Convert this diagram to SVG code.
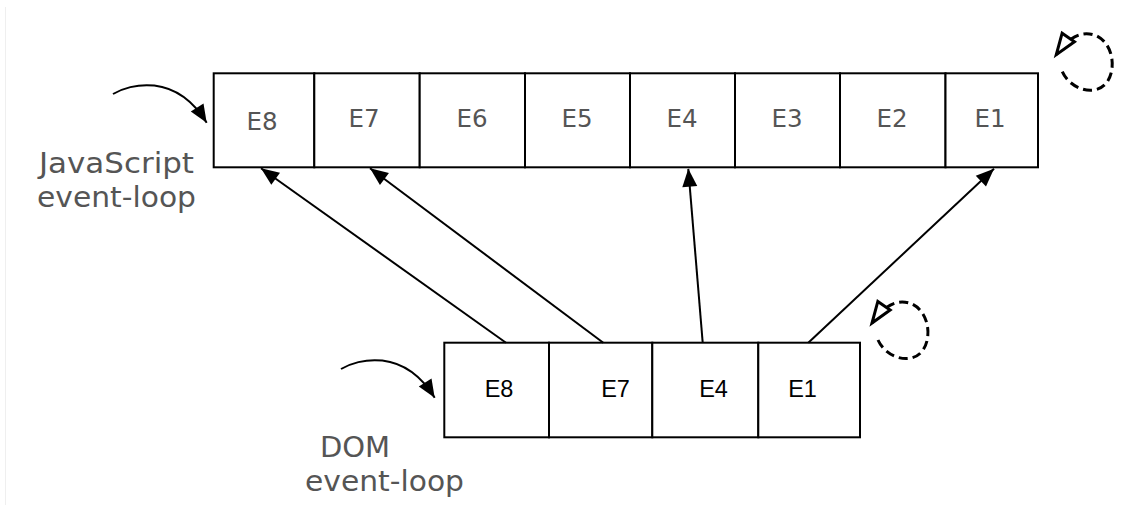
<svg xmlns="http://www.w3.org/2000/svg" width="1129" height="515" viewBox="0 0 1129 515">
  <style>
    .cell { fill: #ffffff; stroke: #000000; stroke-width: 2; }
    .js-label { font-family: "DejaVu Sans", Verdana, sans-serif; font-size: 24.5px; fill: #555555; text-anchor: middle; }
    .dom-label { font-family: "Liberation Sans", Arial, sans-serif; font-size: 23.5px; fill: #000000; text-anchor: middle; }
    .caption { font-family: "DejaVu Sans", Verdana, sans-serif; font-size: 29px; fill: #555555; }
    .edge { fill: none; stroke: #000000; stroke-width: 2; marker-end: url(#solid-head); }
    .loop { fill: none; stroke: #000000; stroke-width: 3; stroke-dasharray: 9 5; marker-end: url(#open-head); }
  </style>
  <defs>
    <marker id="solid-head" markerUnits="userSpaceOnUse" markerWidth="20" markerHeight="16" refX="18" refY="7.5" orient="auto" overflow="visible">
      <path d="M0,0 L18,7.5 L0,15 z" fill="#000000"/>
    </marker>
    <marker id="open-head" markerUnits="userSpaceOnUse" markerWidth="24" markerHeight="18" refX="21" refY="7.5" orient="auto" overflow="visible">
      <path d="M0,0 L21,7.5 L0,15 z" fill="#ffffff" stroke="#000000" stroke-width="3" stroke-linejoin="miter"/>
    </marker>
  </defs>

  <rect width="1129" height="515" fill="#ffffff"/>
  <line x1="5.5" y1="7" x2="5.5" y2="505" stroke="#efefef" stroke-width="1"/>

  <!-- captions -->
  <g id="js-caption">
    <text class="caption" x="39" y="172.5" textLength="155" lengthAdjust="spacingAndGlyphs">JavaScript</text>
    <text class="caption" x="37" y="206.5" textLength="159" lengthAdjust="spacingAndGlyphs">event-loop</text>
  </g>
  <g id="dom-caption">
    <text class="caption" x="355" y="456.5" text-anchor="middle">DOM</text>
    <text class="caption" x="305" y="491" textLength="159" lengthAdjust="spacingAndGlyphs">event-loop</text>
  </g>

  <!-- JavaScript event-loop queue -->
  <g id="js-e8"><rect class="cell" x="213.7" y="73.3" width="100.6" height="94"/><text class="js-label" x="262" y="129.5">E8</text></g>
  <g id="js-e7"><rect class="cell" x="314.3" y="73.3" width="105.4" height="94"/><text class="js-label" x="364" y="127">E7</text></g>
  <g id="js-e6"><rect class="cell" x="419.7" y="73.3" width="105.3" height="94"/><text class="js-label" x="472" y="127">E6</text></g>
  <g id="js-e5"><rect class="cell" x="525" y="73.3" width="105" height="94"/><text class="js-label" x="577" y="127">E5</text></g>
  <g id="js-e4"><rect class="cell" x="630" y="73.3" width="105" height="94"/><text class="js-label" x="682" y="127">E4</text></g>
  <g id="js-e3"><rect class="cell" x="735" y="73.3" width="105" height="94"/><text class="js-label" x="787" y="127">E3</text></g>
  <g id="js-e2"><rect class="cell" x="840" y="73.3" width="105.5" height="94"/><text class="js-label" x="892" y="127">E2</text></g>
  <g id="js-e1"><rect class="cell" x="945.5" y="73.3" width="92.5" height="94"/><text class="js-label" x="990" y="127">E1</text></g>

  <!-- DOM event-loop queue -->
  <g id="dom-e8"><rect class="cell" x="444.3" y="342.7" width="104.7" height="94.6"/><text class="dom-label" x="499" y="397">E8</text></g>
  <g id="dom-e7"><rect class="cell" x="549" y="342.7" width="103.3" height="94.6"/><text class="dom-label" x="615.5" y="397">E7</text></g>
  <g id="dom-e4"><rect class="cell" x="652.3" y="342.7" width="106" height="94.6"/><text class="dom-label" x="713.5" y="397">E4</text></g>
  <g id="dom-e1"><rect class="cell" x="758.3" y="342.7" width="101.7" height="94.6"/><text class="dom-label" x="802.5" y="397">E1</text></g>

  <!-- connectors -->
  <g id="connectors">
    <line class="edge" x1="506" y1="342.7" x2="261" y2="168.3"/>
    <line class="edge" x1="603.3" y1="342.7" x2="370" y2="168.3"/>
    <line class="edge" x1="702.7" y1="342.7" x2="688.3" y2="168.8"/>
    <line class="edge" x1="808.3" y1="342.7" x2="994" y2="168.8"/>

    <!-- entry arrows -->
    <path class="edge" d="M113,94 C130,84 175,72 206.7,122.7"/>
    <path class="edge" d="M341,369 C358,359 403,347 434.7,397.7"/>

    <!-- dashed self loops -->
    <path class="loop" d="M878,340 C886,358 912,366 923,350 C932,337 929,312 912,304 C902,300 888,300 872,323"/>
    <path class="loop" d="M1062.3,71.7 C1070.3,89.7 1096.3,97.7 1107.3,81.7 C1116.3,68.7 1113.3,43.7 1096.3,35.7 C1086.3,31.7 1072.3,31.7 1056.3,54.7"/>
  </g>
</svg>
